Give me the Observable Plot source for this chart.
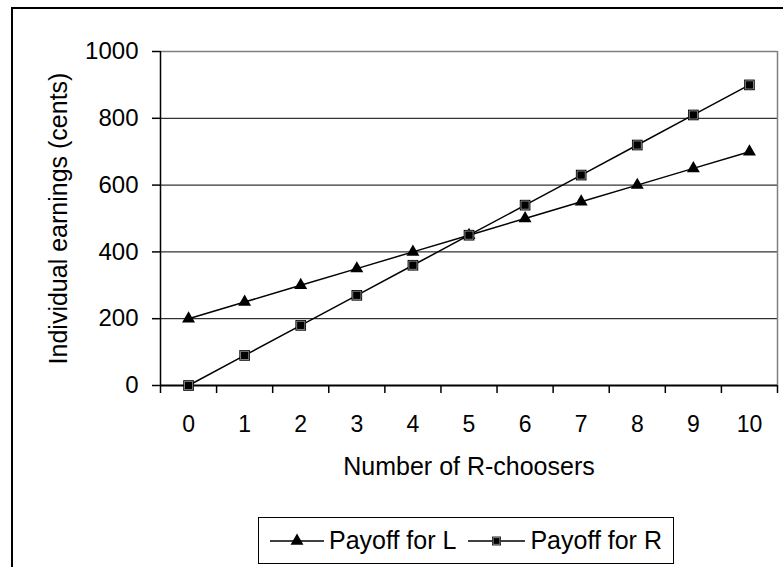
<!DOCTYPE html>
<html>
<head>
<meta charset="utf-8">
<script src="https://cdn.jsdelivr.net/npm/d3@7"></script>
<script src="https://cdn.jsdelivr.net/npm/@observablehq/plot@0.6"></script>
<style>
  html, body { margin: 0; padding: 0; background: #fff; }
  #wrap { position: relative; width: 783px; height: 567px; overflow: hidden; font-family: "Liberation Sans", Arial, sans-serif; }
  #frame { position: absolute; left: 11px; top: 7px; width: 800px; height: 600px; border-left: 2px solid #000; border-top: 2px solid #000; }
  #chart { position: absolute; left: 0; top: 0; }
  #legend { position: absolute; left: 258px; top: 517px; height: 47px; box-sizing: border-box; border: 1.5px solid #000;
            display: flex; align-items: center; padding: 0 11px 0 11px; font-size: 25px; color: #000; background: #fff; }
  #legend .item { display: flex; align-items: center; }
  #legend svg { display: block; }
  #legend .label { margin-left: 5px; margin-right: 12px; white-space: nowrap; }
  #legend .item:last-child .label { margin-right: 0; }
</style>
</head>
<body>
<div id="wrap">
  <div id="frame"></div>
  <div id="chart"></div>
  <div id="legend"></div>
</div>
<script>
// Number of players choosing R, and the individual payoff (cents) of each choice
const choosers = [0, 1, 2, 3, 4, 5, 6, 7, 8, 9, 10];
const payoffL = [200, 250, 300, 350, 400, 450, 500, 550, 600, 650, 700];
const payoffR = [0, 90, 180, 270, 360, 450, 540, 630, 720, 810, 900];
const yTicks = [0, 200, 400, 600, 800, 1000];
const seriesNames = ["Payoff for L", "Payoff for R"];

const rowsL = choosers.map((n, i) => ({n, v: payoffL[i]}));
const rowsR = choosers.map((n, i) => ({n, v: payoffR[i]}));
// category edges, where the x-axis tick marks sit
const edges = [...choosers.map(n => n - 0.5), choosers[choosers.length - 1] + 0.5];

const font = "Liberation Sans, Arial, sans-serif";

const chart = Plot.plot({
  width: 783,
  height: 500,
  marginLeft: 160,
  marginRight: 6,
  marginTop: 51,
  marginBottom: 115,
  style: {fontFamily: font, fontSize: "23px", color: "#000", background: "transparent", overflow: "visible"},
  x: {type: "linear", domain: [edges[0], edges[edges.length - 1]]},
  y: {domain: [0, 1000]},
  marks: [
    // horizontal gridlines
    Plot.ruleY(yTicks.filter(t => t > 0 && t < 1000), {stroke: "#000", strokeWidth: 1}),
    // plot-area border (top and right)
    Plot.ruleY([1000], {stroke: "#808080", strokeWidth: 1.5}),
    Plot.ruleX([edges[edges.length - 1]], {stroke: "#808080", strokeWidth: 1.5}),
    // axes
    Plot.axisY(yTicks, {tickSize: 8, tickPadding: 14, fontSize: 24, label: null, strokeWidth: 1.5, tickFormat: d => String(d)}),
    Plot.axisX(edges, {tickSize: 8, tickFormat: () => "", label: null, strokeWidth: 1.5}),
    Plot.axisX(choosers, {tickSize: 0, tickPadding: 30, fontSize: 23, label: null, tickFormat: d => String(d)}),
    Plot.ruleX([edges[0]], {stroke: "#000", strokeWidth: 1.5}),
    Plot.ruleY([0], {stroke: "#000", strokeWidth: 2}),
    // axis titles
    Plot.text(["Individual earnings (cents)"], {text: d => d, frameAnchor: "left", textAnchor: "middle", rotate: -90, dx: -102, fontSize: 25}),
    Plot.text(["Number of R-choosers"], {text: d => d, frameAnchor: "bottom", dy: 89, fontSize: 25}),
    // series lines
    Plot.line(rowsL, {x: "n", y: "v", stroke: "#000", strokeWidth: 1.5}),
    Plot.line(rowsR, {x: "n", y: "v", stroke: "#000", strokeWidth: 1.5}),
    // markers
    Plot.dot(rowsL, {x: "n", y: "v", symbol: "triangle", r: 4.8, fill: "#000", stroke: "none"}),
    Plot.dot(rowsR, {x: "n", y: "v", symbol: "square", r: 6.0, fill: "#000", stroke: "none"}),
    Plot.dot(rowsR, {x: "n", y: "v", symbol: "square", r: 4.6, fill: "none", stroke: "#fff", strokeWidth: 0.5})
  ]
});
document.getElementById("chart").appendChild(chart);

// legend: line sample with marker, then the series name
const legend = d3.select("#legend");
const symbols = [d3.symbolTriangle, d3.symbolSquare];
const sizes = [Math.PI * 4.8 * 4.8, Math.PI * 5.0 * 5.0];
seriesNames.forEach((name, i) => {
  const item = legend.append("div").attr("class", "item");
  const w = i === 0 ? 54 : 57;
  const svg = item.append("svg").attr("width", w).attr("height", 20);
  svg.append("line").attr("x1", 0).attr("x2", w).attr("y1", 10).attr("y2", 10)
    .attr("stroke", "#000").attr("stroke-width", 1.5);
  svg.append("path").attr("transform", `translate(${w / 2},10)`)
    .attr("d", d3.symbol(symbols[i], sizes[i])()).attr("fill", "#000");
  if (i === 1) {
    svg.append("path").attr("transform", `translate(${w / 2},10)`)
      .attr("d", d3.symbol(d3.symbolSquare, Math.PI * 3.8 * 3.8)())
      .attr("fill", "none").attr("stroke", "#fff").attr("stroke-width", 0.5);
  }
  item.append("span").attr("class", "label").text(name);
});
</script>
</body>
</html>
